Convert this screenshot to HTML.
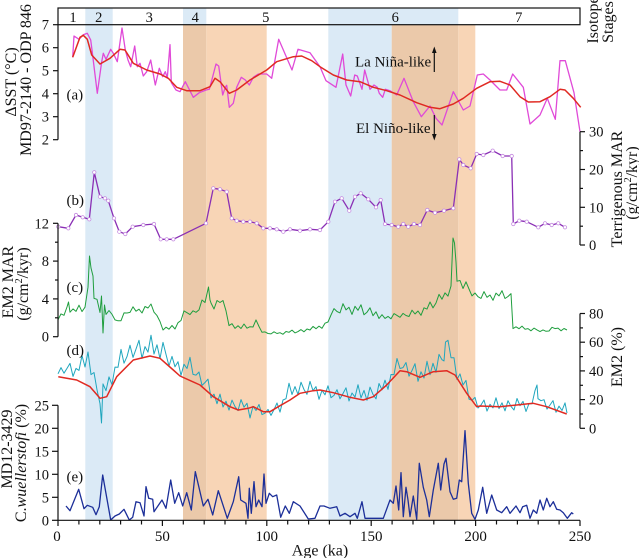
<!DOCTYPE html>
<html><head><meta charset="utf-8">
<style>
html,body{margin:0;padding:0;background:#fff;font-family:"Liberation Serif","Times New Roman",serif;}
svg{display:block;}
svg text, svg tspan{font-family:"Liberation Serif","Times New Roman","DejaVu Serif",serif;}
</style></head>
<body>
<svg width="639" height="558" viewBox="0 0 639 558" xmlns="http://www.w3.org/2000/svg">
<!-- shading -->
<rect x="85.3" y="8" width="27.4" height="512" fill="#dbeaf6"/>
<rect x="183" y="8" width="23.3" height="16.7" fill="#dbeaf6"/>
<rect x="183" y="24.7" width="23.3" height="495.3" fill="#ebc9aa"/>
<rect x="206.3" y="24.7" width="60.4" height="495.3" fill="#f8d5b6"/>
<rect x="328.3" y="8" width="130" height="16.7" fill="#dbeaf6"/>
<rect x="328.3" y="24.7" width="63.4" height="495.3" fill="#dbeaf6"/>
<rect x="391.7" y="24.7" width="66.6" height="495.3" fill="#ebc9aa"/>
<rect x="458.3" y="24.7" width="17" height="495.3" fill="#f8d5b6"/>

<!-- stage box -->
<rect x="58" y="8" width="522" height="16.7" fill="none" stroke="#111" stroke-width="1.2"/>
<g font-size="14.5" text-anchor="middle" fill="#111" font-family="Liberation Serif, Times New Roman, serif">
<text font-family="Liberation Serif, serif" x="73" y="22">1</text><text font-family="Liberation Serif, serif" x="98.7" y="22">2</text><text font-family="Liberation Serif, serif" x="149.3" y="22">3</text>
<text font-family="Liberation Serif, serif" x="195.3" y="22">4</text><text font-family="Liberation Serif, serif" x="265.7" y="22">5</text><text font-family="Liberation Serif, serif" x="395.3" y="22">6</text>
<text font-family="Liberation Serif, serif" x="518.7" y="22">7</text>
</g>

<!-- panel a -->
<polyline fill="none" stroke="#e04ad8" stroke-width="1.3" stroke-linejoin="round" points="72.7,57.3 74,36 79,39.3 83.3,34.7 87.3,33.3 90.7,40 92,50 97.3,93.3 101.7,61.7 103.3,53.3 106,59.3 110.7,49.3 113.3,53.3 117.3,61.7 122,28 125.3,50 128,60 130.7,66.7 134.7,46 137.3,66.7 140,63.3 143.3,76 146.7,71.7 150.7,60 155.3,85 159.3,68.3 162.7,76.7 165.3,71.7 167.3,78 170,44.7 171.3,82.7 176,90 180,91.7 185.3,81.7 193.3,97.3 199.3,92.7 206,90 209.3,89.3 212,79.3 216,64 218.7,66 222.7,95 225.3,87.3 226.7,85.3 229.3,107.3 233.3,103.3 236.7,87.3 241.3,77.3 245.3,80 249.3,85 253.3,77.3 258.3,74 266.7,74 271.7,78.3 278.7,39.3 292,70 298,49.3 310,52.7 320,66.7 326,80.7 336,87.3 342.7,54 346,85 350.7,96 354.7,75 357.3,76 362,89.3 364.7,70 370,89.3 374,85 377.3,87.3 379.3,93.3 382.7,97.3 385.3,89.3 390,90.7 396.7,95 404,78.3 413.3,101.7 421.3,116.7 430,106 436,118.3 442,125 453.3,91.7 463.3,110 470,106 477.3,75 483.3,74 490,80 500,90 506.7,90 512.7,74 523.3,87.3 530,124 540,115 547.3,98.3 555.3,119.3 560,60.7 565.3,60.7 574,92.7 580,131.7"/>
<polyline fill="none" stroke="#e02a22" stroke-width="1.5" stroke-linejoin="round" points="72.7,57.3 80,37.3 83.3,35.3 87.3,39.3 91.7,55 100,64 110,58.3 120,49.3 125,50 133.3,63.3 146.7,70 160,74 168.3,78.3 176.7,87.3 186.7,90.7 200,90.7 210,86.7 215,78.3 220,81.7 229.3,93.3 236.7,90 250,80 266.7,70 276.7,61.7 293.3,56.7 301.7,56 311.7,60.7 320,66.7 333.3,75 346.7,80 360,81.7 373.3,87.3 386.7,90.7 400,95 416.7,102.7 430,107.3 440,108.7 453.3,104 463.3,98.3 476.7,88.3 490,81.7 500,81.3 510,85 520,96.7 528.3,102 540,101.7 550,96.7 560,89.3 565,90 573.3,98.3 580.7,107.3"/>
<text font-family="Liberation Serif, serif" x="355" y="66.5" font-size="15" fill="#111">La Niña-like</text>
<text font-family="Liberation Serif, serif" x="356" y="133" font-size="15" fill="#111">El Niño-like</text>
<line x1="434.3" y1="72" x2="434.3" y2="52" stroke="#111" stroke-width="1.2"/>
<polygon points="434.3,46.5 432,53 436.6,53" fill="#111"/>
<line x1="434.3" y1="115" x2="434.3" y2="135" stroke="#111" stroke-width="1.2"/>
<polygon points="434.3,140.5 432,134 436.6,134" fill="#111"/>
<text font-family="Liberation Serif, serif" x="66.5" y="99.5" font-size="15" fill="#111">(a)</text>
<g stroke="#111" stroke-width="1.2">
<line x1="58" y1="24.7" x2="58" y2="139.7"/>
<line x1="53" y1="24.7" x2="58" y2="24.7"/><line x1="53" y1="47.7" x2="58" y2="47.7"/>
<line x1="53" y1="70.7" x2="58" y2="70.7"/><line x1="53" y1="93.7" x2="58" y2="93.7"/>
<line x1="53" y1="116.7" x2="58" y2="116.7"/><line x1="53" y1="139.7" x2="58" y2="139.7"/>
</g>
<g font-size="14.5" text-anchor="end" fill="#111">
<text font-family="Liberation Serif, serif" x="49" y="29.7">7</text><text font-family="Liberation Serif, serif" x="49" y="52.7">6</text><text font-family="Liberation Serif, serif" x="49" y="75.7">5</text>
<text font-family="Liberation Serif, serif" x="49" y="98.7">4</text><text font-family="Liberation Serif, serif" x="49" y="121.7">3</text><text font-family="Liberation Serif, serif" x="49" y="144.7">2</text>
</g>
<text font-family="Liberation Serif, serif" transform="translate(16,82) rotate(-90)" font-size="16" text-anchor="middle" fill="#111">ΔSST (°C)</text>
<text font-family="Liberation Serif, serif" transform="translate(31,80) rotate(-90)" font-size="16" text-anchor="middle" fill="#111">MD97-2140 - ODP 846</text>

<!-- panel b -->
<polyline fill="none" stroke="#8a2fb5" stroke-width="1.3" stroke-linejoin="round" points="58.3,226.7 68.3,228.3 76,215 82.7,217.3 89.3,219.3 94.3,172.3 100,196.7 105,198.3 108.3,200.7 114,218.3 119.3,231.7 125.3,234 132.7,226.7 143.3,225 154,224 160.7,239.3 166.7,239.3 173.3,239.3 206,223.3 213.3,188.3 220,189.3 226.7,191.7 231.7,218.3 236.7,220.7 243.3,221.7 250,221.7 256.7,223.3 263.3,228.3 270,228.3 276.7,229.3 283.3,231.7 290,229.3 300,230.7 310,229.3 320,230 328.3,221.7 335,201.7 341.7,198.3 349.3,210.7 355,196.7 360.7,193.3 368.3,199.3 376,207.3 380.7,200 385,224 391.7,225 398.3,226.7 403.3,224 408.3,226.7 414,224 420,225 427.3,210 435,212.7 444,210.7 453.3,208.3 459.3,159.3 463.3,165 470.7,168.3 476.7,154 483.3,155 492.7,150.7 502.7,156 511.7,156 513.3,224 519.3,220.7 526.7,221.7 538.3,227.3 545,223.3 551.7,225 558.3,223.3 565,227.3"/>
<g fill="#fff" stroke="#c58be0" stroke-width="0.8">
<circle cx="58.3" cy="226.7" r="1.7"/><circle cx="68.3" cy="228.3" r="1.7"/><circle cx="76" cy="215" r="1.7"/><circle cx="82.7" cy="217.3" r="1.7"/><circle cx="89.3" cy="219.3" r="1.7"/><circle cx="94.3" cy="172.3" r="1.7"/><circle cx="100" cy="196.7" r="1.7"/><circle cx="105" cy="198.3" r="1.7"/><circle cx="108.3" cy="200.7" r="1.7"/><circle cx="114" cy="218.3" r="1.7"/><circle cx="119.3" cy="231.7" r="1.7"/><circle cx="125.3" cy="234" r="1.7"/><circle cx="132.7" cy="226.7" r="1.7"/><circle cx="143.3" cy="225" r="1.7"/><circle cx="154" cy="224" r="1.7"/><circle cx="160.7" cy="239.3" r="1.7"/><circle cx="166.7" cy="239.3" r="1.7"/><circle cx="173.3" cy="239.3" r="1.7"/><circle cx="206" cy="223.3" r="1.7"/><circle cx="213.3" cy="188.3" r="1.7"/><circle cx="220" cy="189.3" r="1.7"/><circle cx="226.7" cy="191.7" r="1.7"/><circle cx="231.7" cy="218.3" r="1.7"/><circle cx="236.7" cy="220.7" r="1.7"/><circle cx="243.3" cy="221.7" r="1.7"/><circle cx="250" cy="221.7" r="1.7"/><circle cx="256.7" cy="223.3" r="1.7"/><circle cx="263.3" cy="228.3" r="1.7"/><circle cx="270" cy="228.3" r="1.7"/><circle cx="276.7" cy="229.3" r="1.7"/><circle cx="283.3" cy="231.7" r="1.7"/><circle cx="290" cy="229.3" r="1.7"/><circle cx="300" cy="230.7" r="1.7"/><circle cx="310" cy="229.3" r="1.7"/><circle cx="320" cy="230" r="1.7"/><circle cx="328.3" cy="221.7" r="1.7"/><circle cx="335" cy="201.7" r="1.7"/><circle cx="341.7" cy="198.3" r="1.7"/><circle cx="349.3" cy="210.7" r="1.7"/><circle cx="355" cy="196.7" r="1.7"/><circle cx="360.7" cy="193.3" r="1.7"/><circle cx="368.3" cy="199.3" r="1.7"/><circle cx="376" cy="207.3" r="1.7"/><circle cx="380.7" cy="200" r="1.7"/><circle cx="385" cy="224" r="1.7"/><circle cx="391.7" cy="225" r="1.7"/><circle cx="398.3" cy="226.7" r="1.7"/><circle cx="403.3" cy="224" r="1.7"/><circle cx="408.3" cy="226.7" r="1.7"/><circle cx="414" cy="224" r="1.7"/><circle cx="420" cy="225" r="1.7"/><circle cx="427.3" cy="210" r="1.7"/><circle cx="435" cy="212.7" r="1.7"/><circle cx="444" cy="210.7" r="1.7"/><circle cx="453.3" cy="208.3" r="1.7"/><circle cx="459.3" cy="159.3" r="1.7"/><circle cx="463.3" cy="165" r="1.7"/><circle cx="470.7" cy="168.3" r="1.7"/><circle cx="476.7" cy="154" r="1.7"/><circle cx="483.3" cy="155" r="1.7"/><circle cx="492.7" cy="150.7" r="1.7"/><circle cx="502.7" cy="156" r="1.7"/><circle cx="511.7" cy="156" r="1.7"/><circle cx="513.3" cy="224" r="1.7"/><circle cx="519.3" cy="220.7" r="1.7"/><circle cx="526.7" cy="221.7" r="1.7"/><circle cx="538.3" cy="227.3" r="1.7"/><circle cx="545" cy="223.3" r="1.7"/><circle cx="551.7" cy="225" r="1.7"/><circle cx="558.3" cy="223.3" r="1.7"/><circle cx="565" cy="227.3" r="1.7"/>
</g>
<text font-family="Liberation Serif, serif" x="66.5" y="205" font-size="15" fill="#111">(b)</text>
<g stroke="#111" stroke-width="1.2">
<line x1="580" y1="131.7" x2="580" y2="245"/>
<line x1="580" y1="131.7" x2="585" y2="131.7"/><line x1="580" y1="169.5" x2="585" y2="169.5"/>
<line x1="580" y1="207.3" x2="585" y2="207.3"/><line x1="580" y1="245" x2="585" y2="245"/>
<line x1="580" y1="150.6" x2="583" y2="150.6"/><line x1="580" y1="188.4" x2="583" y2="188.4"/>
<line x1="580" y1="226.2" x2="583" y2="226.2"/>
</g>
<g font-size="14.5" fill="#111">
<text font-family="Liberation Serif, serif" x="589" y="136.7">30</text><text font-family="Liberation Serif, serif" x="589" y="174.5">20</text><text font-family="Liberation Serif, serif" x="589" y="212.3">10</text><text font-family="Liberation Serif, serif" x="589" y="250">0</text>
</g>
<text font-family="Liberation Serif, serif" transform="translate(622,189) rotate(-90)" font-size="16" text-anchor="middle" fill="#111">Terrigenous MAR</text>
<text font-family="Liberation Serif, serif" transform="translate(637,183) rotate(-90)" font-size="16" text-anchor="middle" fill="#111">(g/cm<tspan font-size="10" dy="-6">2</tspan><tspan dy="6">/kyr)</tspan></text>
<text font-family="Liberation Serif, serif" transform="translate(598,20) rotate(-90)" font-size="16" text-anchor="middle" fill="#111">Isotope</text>
<text font-family="Liberation Serif, serif" transform="translate(613,22) rotate(-90)" font-size="16" text-anchor="middle" fill="#111">Stages</text>

<!-- panel c -->
<polyline fill="none" stroke="#1f9e3e" stroke-width="1" stroke-linejoin="round" points="58,319.8 61,313.9 64,315.3 67,307 68.5,302 70,312.2 73,308.9 76,311.4 79,305.2 82,311.6 85,307.2 88,287.2 89.5,256 91,268 93,276 94,298.4 97,299.3 100,312.5 101.5,296 103,333 104.5,305 106,314.4 109,310.5 112,314.3 115,319.9 118,320.8 121,320.7 124,312.9 127,313 130,312.4 133,306.8 136,311.2 139,309.2 142,313 145,306.5 148,308 151,304 154,312.2 157,315.6 160,321.5 163,330 166,327.2 169,329.2 172,325.5 175,329 178,322.7 181,320.5 184,310.9 187,312.7 190,314.6 193,310.8 196,312.3 199,309.9 202,300 205,302.5 208.5,287 210,300 211,303 214,309 217,300.5 220,302.5 223,300.5 226,310.8 229,325.6 232,323.7 235,328.4 238,325.7 241,328.5 244,324 247,328.2 250,326.7 253,327 256,319.9 259,326.5 262,332.3 265,331.9 268,333.5 271,333.9 274,331.8 277,333.5 280,332.7 283,334.3 286,331.5 289,332.3 292,330.1 295,332.9 298,331.6 301,329.6 304,331.8 307,329 310,330 313,326.4 316,328.7 319,326.1 322,328.3 325,323.2 328,322 331,315 334,308.6 337,311.5 340,312.9 343,303.7 346,309.9 349,307.3 352,314.4 355,306.3 358,310.3 361,304.8 364,314.8 367,312.2 370,307.8 373,315.7 376,311.8 379,318.5 382,314.7 385,318.4 388,316.4 391,318.8 394,313.6 397,315.4 400,317.3 403,313.4 406,315.5 409,316.5 412,310.2 415,314 418,311 421,315.3 424,307.8 427,309.1 430,302 433,307.9 436,303 439,294.4 442,299.2 445,292.9 448,296.1 451,286 453,238 454.5,243 456,262 457,281.2 460,280.5 463,288.5 466,281.8 469,289 472,295.9 475,293 478,296.7 481,298.4 484,291.6 487,297.3 490,295 493,300.3 496,293.1 499,295.9 502,290.7 505,298.5 508,296.5 511,293.6 513,328.6 516,326.8 519,328.7 522,326.1 525,329.2 528,328.6 531,330.8 534,328.1 537,329.9 540,331.6 543,329.9 546,331.3 549,331 552,327.3 555,328.6 558,328.1 561,330.8 564,328.5 567,330"/>
<text font-family="Liberation Serif, serif" x="66.5" y="292" font-size="15" fill="#111">(c)</text>
<g stroke="#111" stroke-width="1.2">
<line x1="58" y1="223.3" x2="58" y2="336.7"/>
<line x1="53" y1="223.3" x2="58" y2="223.3"/><line x1="53" y1="261.1" x2="58" y2="261.1"/>
<line x1="53" y1="298.9" x2="58" y2="298.9"/><line x1="53" y1="336.7" x2="58" y2="336.7"/>
<line x1="55" y1="242.2" x2="58" y2="242.2"/><line x1="55" y1="280" x2="58" y2="280"/>
<line x1="55" y1="317.8" x2="58" y2="317.8"/>
</g>
<g font-size="14.5" text-anchor="end" fill="#111">
<text font-family="Liberation Serif, serif" x="49" y="228.3">12</text><text font-family="Liberation Serif, serif" x="49" y="266.1">8</text><text font-family="Liberation Serif, serif" x="49" y="303.9">4</text><text font-family="Liberation Serif, serif" x="49" y="341.7">0</text>
</g>
<text font-family="Liberation Serif, serif" transform="translate(13,282) rotate(-90)" font-size="16" text-anchor="middle" fill="#111">EM2 MAR</text>
<text font-family="Liberation Serif, serif" transform="translate(28,284) rotate(-90)" font-size="16" text-anchor="middle" fill="#111">(g/cm<tspan font-size="10" dy="-6">2</tspan><tspan dy="6">/kyr)</tspan></text>

<!-- panel d -->
<polyline fill="none" stroke="#1fa6be" stroke-width="1" stroke-linejoin="round" points="58,373.8 61,367.6 64,373.2 67,368.4 70,363.4 73,376.4 76,368.4 79,370.4 82,355.5 85,367 88,352 91,374.6 94,372.5 97,389.8 100,403.6 101.5,423 103,383.9 106,390.7 109,376.9 112,384.7 115,367.1 118,367.3 121,349.4 124,363.2 127,356.6 130,345.2 133,357.4 136,349.1 139,340.3 142,358.4 145,346.6 148,352.1 151,335.2 154,354 157,344.8 160,358.6 163,342.4 166,354.4 169,366 172,356.4 175,366.8 178,361.7 181,375.4 184,364.3 187,368.5 190,357.3 193,374.4 196,375.1 199,372 202,385.4 205,382.5 208,379.1 211,397.9 214,394.1 217,403.7 220,394.1 223,407 226,401.2 229,410.1 232,400.1 235,406.6 238,410.6 241,399.6 244,407.2 247,403.3 250,418 253,406.3 256,410.5 259,404.5 262,414.6 265,413.2 268,409.4 271,415.4 274,409.6 277,403 280,412.1 283,400 286,398.7 289,383.2 292,394.5 295,386.6 298,394.5 301,382.2 304,389.5 307,394.3 310,381.4 313,390.7 316,386.6 319,399.3 322,390.4 325,394.8 328,385.8 331,397.7 334,395.4 337,389.7 340,398.8 343,393.5 346,387.8 349,401 352,393 355,397.1 358,384.7 361,397.8 364,390.4 367,400.3 370,387.1 373,394.4 376,398.9 379,383.5 382,389.8 385,380.2 388,389.4 391,374.5 394,374.6 397,358.5 400,368.5 403,367.6 406,362.5 409,376.2 412,370.5 415,363.7 418,381.3 421,371.8 424,378 427,361.3 430,374.7 433,363.3 436,372.3 439,354.4 442,359.7 444,361 445.5,342 448,340.3 451,357.7 454,357.8 457,379.5 460,373.9 463,385 466,380.4 469,399.2 472,400.3 475,397.4 478,408 481,405 484,400 487,411.1 490,404.3 493,407.9 496,397.8 499,408.6 502,402.8 505,410.8 508,400.7 511,406.4 514,410 517,398.5 520,405.7 523,401.4 526,411.5 529,403.6 532,403.8 535,390.6 537,385 538,398.7 541,400.7 544,399.7 547,409.1 550,405 553,400.6 556,412.3 559,406.1 562,410.5 565,402.9 567,413"/>
<polyline fill="none" stroke="#e02a22" stroke-width="1.5" stroke-linejoin="round" points="58.3,376.7 76.7,380 90,386.7 100,398.3 106.7,396.7 116.7,376.7 133.3,360 150,356 160,358.3 173.3,370 180,376 200,385 213.3,396.7 230,406.7 238.3,410 248.3,408.3 253.3,406.7 263.3,411.7 270,411.7 278.3,406.7 290,400 300,393.3 313.3,390.7 320,390 333.3,392.7 350,397.3 363.3,400 373.3,396.7 386.7,385 400,370.7 406.7,371.7 420,377.3 433.3,371.7 446.7,370.7 455,375 466.7,393.3 476.7,406.7 480,406 500,406.7 516.7,405 533.3,403.3 546.7,406.7 566.7,414"/>
<text font-family="Liberation Serif, serif" x="66.5" y="355" font-size="15" fill="#111">(d)</text>
<g stroke="#111" stroke-width="1.2">
<line x1="580" y1="313.5" x2="580" y2="428.3"/>
<line x1="580" y1="313.5" x2="585" y2="313.5"/><line x1="580" y1="342.2" x2="585" y2="342.2"/>
<line x1="580" y1="370.9" x2="585" y2="370.9"/><line x1="580" y1="399.6" x2="585" y2="399.6"/>
<line x1="580" y1="428.3" x2="585" y2="428.3"/>
<line x1="580" y1="327.9" x2="583" y2="327.9"/><line x1="580" y1="356.6" x2="583" y2="356.6"/>
<line x1="580" y1="385.3" x2="583" y2="385.3"/><line x1="580" y1="414" x2="583" y2="414"/>
</g>
<g font-size="14.5" fill="#111">
<text font-family="Liberation Serif, serif" x="589" y="318.5">80</text><text font-family="Liberation Serif, serif" x="589" y="347.2">60</text><text font-family="Liberation Serif, serif" x="589" y="375.9">40</text><text font-family="Liberation Serif, serif" x="589" y="404.6">20</text><text font-family="Liberation Serif, serif" x="589" y="433.3">0</text>
</g>
<text font-family="Liberation Serif, serif" transform="translate(622,357) rotate(-90)" font-size="16" text-anchor="middle" fill="#111">EM2 (%)</text>

<!-- panel e -->
<polyline fill="none" stroke="#1c2f99" stroke-width="1.3" stroke-linejoin="round" points="66,506 70,510.7 78.7,489.3 84,508.7 87.3,505.3 92.7,507.3 96,514.7 99.3,506.7 102.7,475 110.7,520 115,516 119.3,514 124,509.3 129.3,520 132.7,517.3 136,501.7 140,502.7 144,516 146,486.7 148.7,498.3 152.7,499.3 154,511.7 162,500 166,508.3 170.7,480 174.7,503.3 178.7,492.7 182.7,506 186.7,492.7 191.3,510 195.3,471.7 203.3,506 208,499.3 212.7,515 218.3,490.7 227.3,518.3 233.3,501.7 238.7,476.7 240.7,500 246,503.3 248,518.3 249.3,488.3 251.3,513.3 254,481.7 256,506.7 258.7,500 262,506.7 264,474 266,503.3 269.3,493.3 272.7,496.7 276.7,495 280.7,517.3 285.3,506 289.3,513.3 293.3,501.7 300,506 308.3,519 315,518.3 320,506 324,506 330,508.3 336.7,506.7 340,516 345,513.3 350,516.7 355,513.3 357.3,518.3 362,501.7 365,518.3 383.3,518.3 390,500 393.3,503.3 396,486 398.7,510 401,472.7 403.3,516.7 406,487.3 408,500 410,516.7 413.3,496 416.7,519.3 419.3,463.3 423.3,487.3 426.7,500 429.3,516.7 433.3,490 438.3,463.3 440.7,490 444,464 446,458.3 450,491.7 453.3,499.3 456.7,498.3 459.3,480 461.7,481.7 465,430.7 468.3,483.3 471.7,513.3 475,519.3 478.3,510 482.7,487.3 486.7,513.3 491.7,495 496.7,510 501.7,512.7 506.7,506.7 510,513.3 516,506 520,512.7 522.7,506.7 526.7,505.3 530,518.3 533.3,510 536.7,513.3 540,500 543.3,510 546.7,498.3 550,506.7 553.3,501.7 556.7,509.3 560,510 563.3,512.7 567.3,518.3 571.7,512.7 573.3,514"/>
<text font-family="Liberation Serif, serif" x="66.5" y="481.5" font-size="15" fill="#111">(e)</text>
<g stroke="#111" stroke-width="1.2">
<line x1="58" y1="405.3" x2="58" y2="520.3"/>
<line x1="52" y1="405.3" x2="58" y2="405.3"/><line x1="52" y1="428.3" x2="58" y2="428.3"/>
<line x1="52" y1="451.3" x2="58" y2="451.3"/><line x1="52" y1="474.3" x2="58" y2="474.3"/>
<line x1="52" y1="497.3" x2="58" y2="497.3"/><line x1="52" y1="520.3" x2="58" y2="520.3"/>
</g>
<g font-size="14.5" text-anchor="end" fill="#111">
<text font-family="Liberation Serif, serif" x="49" y="410.3">25</text><text font-family="Liberation Serif, serif" x="49" y="433.3">20</text><text font-family="Liberation Serif, serif" x="49" y="456.3">15</text>
<text font-family="Liberation Serif, serif" x="49" y="479.3">10</text><text font-family="Liberation Serif, serif" x="49" y="502.3">5</text><text font-family="Liberation Serif, serif" x="49" y="525.3">0</text>
</g>
<text font-family="Liberation Serif, serif" transform="translate(12,449) rotate(-90)" font-size="16" text-anchor="middle" fill="#111">MD12-3429</text>
<text font-family="Liberation Serif, serif" transform="translate(26,463) rotate(-90)" font-size="16" text-anchor="middle" fill="#111">C.<tspan font-style="italic">wuellerstofi</tspan> (%)</text>

<!-- bottom axis -->
<g stroke="#111" stroke-width="1.2">
<line x1="58" y1="520.3" x2="580" y2="520.3"/>
<line x1="58" y1="520.3" x2="58" y2="526"/><line x1="162.4" y1="520.3" x2="162.4" y2="526"/>
<line x1="266.8" y1="520.3" x2="266.8" y2="526"/><line x1="371.2" y1="520.3" x2="371.2" y2="526"/>
<line x1="475.6" y1="520.3" x2="475.6" y2="526"/><line x1="580" y1="520.3" x2="580" y2="526"/>
<line x1="78.9" y1="520.3" x2="78.9" y2="524.5"/><line x1="99.8" y1="520.3" x2="99.8" y2="524.5"/>
<line x1="120.6" y1="520.3" x2="120.6" y2="524.5"/><line x1="141.5" y1="520.3" x2="141.5" y2="524.5"/>
<line x1="183.3" y1="520.3" x2="183.3" y2="524.5"/><line x1="204.2" y1="520.3" x2="204.2" y2="524.5"/>
<line x1="225" y1="520.3" x2="225" y2="524.5"/><line x1="245.9" y1="520.3" x2="245.9" y2="524.5"/>
<line x1="287.7" y1="520.3" x2="287.7" y2="524.5"/><line x1="308.6" y1="520.3" x2="308.6" y2="524.5"/>
<line x1="329.4" y1="520.3" x2="329.4" y2="524.5"/><line x1="350.3" y1="520.3" x2="350.3" y2="524.5"/>
<line x1="392.1" y1="520.3" x2="392.1" y2="524.5"/><line x1="413" y1="520.3" x2="413" y2="524.5"/>
<line x1="433.8" y1="520.3" x2="433.8" y2="524.5"/><line x1="454.7" y1="520.3" x2="454.7" y2="524.5"/>
<line x1="496.5" y1="520.3" x2="496.5" y2="524.5"/><line x1="517.4" y1="520.3" x2="517.4" y2="524.5"/>
<line x1="538.2" y1="520.3" x2="538.2" y2="524.5"/><line x1="559.1" y1="520.3" x2="559.1" y2="524.5"/>
</g>
<g font-size="15" text-anchor="middle" fill="#111">
<text font-family="Liberation Serif, serif" x="57" y="541">0</text><text font-family="Liberation Serif, serif" x="162.4" y="541">50</text><text font-family="Liberation Serif, serif" x="266.8" y="541">100</text>
<text font-family="Liberation Serif, serif" x="371.2" y="541">150</text><text font-family="Liberation Serif, serif" x="475.6" y="541">200</text><text font-family="Liberation Serif, serif" x="580" y="541">250</text>
</g>
<text font-family="Liberation Serif, serif" x="320" y="555.5" font-size="16" text-anchor="middle" fill="#111">Age (ka)</text>
</svg>
</body></html>
